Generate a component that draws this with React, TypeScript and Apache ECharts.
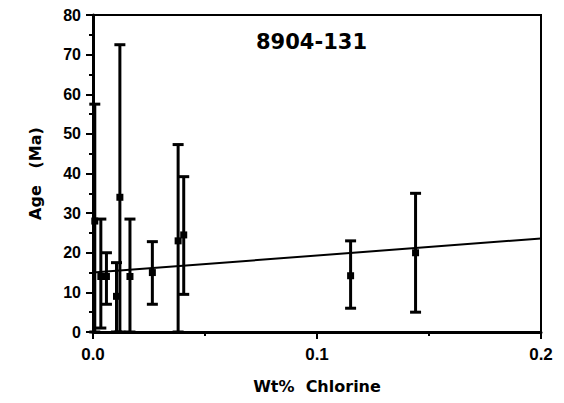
import React, { useEffect, useRef } from "react";
import * as echarts from "echarts";

const chlorine = [0.0008, 0.0035, 0.006, 0.0105, 0.012, 0.0165, 0.0265, 0.038, 0.0405, 0.115, 0.144];
const age = [28, 14, 14, 9, 34, 14, 15, 23, 24.5, 14.2, 20];
const ageLow = [0, 1, 7, 0, 0, 0, 7, 0, 9.5, 6, 5];
const ageHigh = [57.5, 28.5, 20, 17.5, 72.5, 28.5, 22.8, 47.3, 39.2, 23, 35];
const fitX = [0, 0.2];
const fitY = [15, 23.6];
const title = "8904-131";

export default function App() {
  const ref = useRef<HTMLDivElement>(null);
  useEffect(() => {
    if (!ref.current) return;
    const chart = echarts.init(ref.current, null, { renderer: "svg" });
    const font = "'Liberation Sans', Arial, sans-serif";
    const wide = "'DejaVu Sans', sans-serif";
    const data = chlorine.map((x, i) => [x, age[i], ageLow[i], ageHigh[i]]);
    chart.setOption({
      animation: false,
      backgroundColor: "#fff",
      grid: { left: 93, right: 23, top: 15, bottom: 71, show: true, borderColor: "#000", borderWidth: 2, backgroundColor: "transparent" },
      title: {
        text: title,
        left: 251,
        top: 26,
        textStyle: { fontFamily: wide, fontWeight: "bold", fontSize: 21, color: "#000" },
      },
      xAxis: {
        type: "value",
        min: 0,
        max: 0.2,
        interval: 0.1,
        name: "Wt%  Chlorine",
        nameLocation: "middle",
        nameGap: 46,
        nameTextStyle: { fontFamily: wide, fontWeight: "bold", fontSize: 16, color: "#000" },
        axisLine: { show: true, lineStyle: { color: "#000", width: 3 } },
        axisTick: { show: true, length: 7, lineStyle: { color: "#000", width: 2 } },
        minorTick: { show: true, splitNumber: 2, length: 4, lineStyle: { color: "#000", width: 2 } },
        splitLine: { show: false },
        axisLabel: {
          formatter: (v: number) => v.toFixed(1),
          fontFamily: font,
          fontWeight: "bold",
          fontSize: 17,
          color: "#000",
          margin: 14,
        },
      },
      yAxis: {
        type: "value",
        min: 0,
        max: 80,
        interval: 10,
        name: "Age   (Ma)",
        nameLocation: "middle",
        nameGap: 50,
        nameTextStyle: { fontFamily: wide, fontWeight: "bold", fontSize: 16, color: "#000" },
        axisLine: { show: true, lineStyle: { color: "#000", width: 3 } },
        axisTick: { show: true, length: 7, lineStyle: { color: "#000", width: 2 } },
        minorTick: { show: true, splitNumber: 2, length: 4, lineStyle: { color: "#000", width: 2 } },
        splitLine: { show: false },
        axisLabel: { fontFamily: font, fontWeight: "bold", fontSize: 16, color: "#000", margin: 12 },
      },
      series: [
        {
          type: "line",
          data: fitX.map((x, i) => [x, fitY[i]]),
          symbol: "none",
          lineStyle: { color: "#000", width: 2 },
          z: 3,
        },
        {
          type: "custom",
          data,
          z: 4,
          renderItem: (params: any, api: any) => {
            const x = api.value(0);
            const p = api.coord([x, api.value(1)]);
            const lo = api.coord([x, api.value(2)]);
            const hi = api.coord([x, api.value(3)]);
            const cw = 5.5;
            const st = { stroke: "#000", lineWidth: 3 };
            return {
              type: "group",
              children: [
                { type: "line", shape: { x1: lo[0], y1: lo[1], x2: hi[0], y2: hi[1] }, style: st },
                { type: "line", shape: { x1: hi[0] - cw, y1: hi[1], x2: hi[0] + cw, y2: hi[1] }, style: st },
                { type: "line", shape: { x1: lo[0] - cw, y1: lo[1], x2: lo[0] + cw, y2: lo[1] }, style: st },
                { type: "rect", shape: { x: p[0] - 3.5, y: p[1] - 3.5, width: 7, height: 7 }, style: { fill: "#000" } },
              ],
            };
          },
        },
      ],
    });
    return () => chart.dispose();
  }, []);
  return <div ref={ref} style={{ width: 564, height: 403, margin: -8 }} />;
}
